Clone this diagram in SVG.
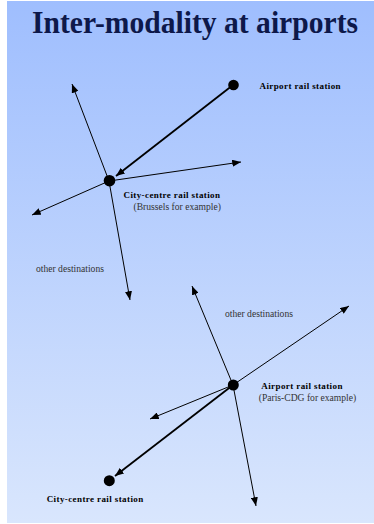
<svg xmlns="http://www.w3.org/2000/svg" width="374" height="524" viewBox="0 0 374 524">
  <defs>
    <linearGradient id="bg" x1="0" y1="0" x2="0" y2="1">
      <stop offset="0" stop-color="#9fbefe"/>
      <stop offset="1" stop-color="#d9e6fd"/>
    </linearGradient>
    <marker id="head" viewBox="0 0 10 8" refX="10" refY="4" markerWidth="9" markerHeight="7" markerUnits="userSpaceOnUse" orient="auto">
      <path d="M0,0 L10,4 L0,8 Z" fill="#000"/>
    </marker>
  </defs>
  <style>
    .title { font-family: "Liberation Serif", "Times New Roman", serif; font-weight: bold; font-size: 31px; fill: #0d184a; }
    .name { font-family: "Liberation Serif", "Times New Roman", serif; font-weight: bold; font-size: 9px; fill: #000; letter-spacing: 0.4px; }
    .note { font-family: "Liberation Serif", "Times New Roman", serif; font-size: 9.6px; fill: #333; }
    .dot { fill: #000; }
    .thin { stroke: #000; stroke-width: 1; fill: none; marker-end: url(#head); }
    .thick { stroke: #000; stroke-width: 1.8; fill: none; marker-end: url(#head); }
  </style>

  <rect x="0" y="0" width="374" height="524" fill="#fff"/>
  <rect x="7" y="1" width="367" height="522" fill="url(#bg)"/>

  <text class="title" x="195" y="33" text-anchor="middle" textLength="326" lengthAdjust="spacingAndGlyphs">Inter-modality at airports</text>

  <g id="connectors">
    <!-- upper network: airport to city centre, then onward -->
    <line class="thick" x1="233" y1="85" x2="116" y2="176"/>
    <line class="thin" x1="109" y1="181" x2="72" y2="84"/>
    <line class="thin" x1="109" y1="181" x2="241" y2="162"/>
    <line class="thin" x1="109" y1="181" x2="32" y2="215"/>
    <line class="thin" x1="109" y1="181" x2="130" y2="300"/>
    <!-- lower network: airport hub, then onward -->
    <line class="thick" x1="233" y1="385" x2="115" y2="476"/>
    <line class="thin" x1="233" y1="385" x2="192" y2="286"/>
    <line class="thin" x1="233" y1="385" x2="349" y2="306"/>
    <line class="thin" x1="233" y1="385" x2="150" y2="419"/>
    <line class="thin" x1="233" y1="385" x2="256" y2="506"/>
  </g>

  <g id="airport-top">
    <circle class="dot" cx="233.5" cy="85" r="5.3"/>
    <text class="name" x="259.5" y="89">Airport rail station</text>
  </g>

  <g id="city-top">
    <circle class="dot" cx="109.5" cy="180.7" r="5.8"/>
    <text class="name" x="123.5" y="198">City-centre rail station</text>
    <text class="note" x="133.5" y="210">(Brussels for example)</text>
  </g>

  <g id="destinations-top">
    <text class="note" x="36" y="272">other destinations</text>
  </g>

  <g id="destinations-bottom">
    <text class="note" x="225" y="317">other destinations</text>
  </g>

  <g id="airport-bottom">
    <circle class="dot" cx="233.3" cy="385" r="5.5"/>
    <text class="name" x="261.3" y="389">Airport rail station</text>
    <text class="note" x="258.7" y="401">(Paris-CDG for example)</text>
  </g>

  <g id="city-bottom">
    <circle class="dot" cx="109.3" cy="480.7" r="5.5"/>
    <text class="name" x="46.7" y="502.3">City-centre rail station</text>
  </g>
</svg>
